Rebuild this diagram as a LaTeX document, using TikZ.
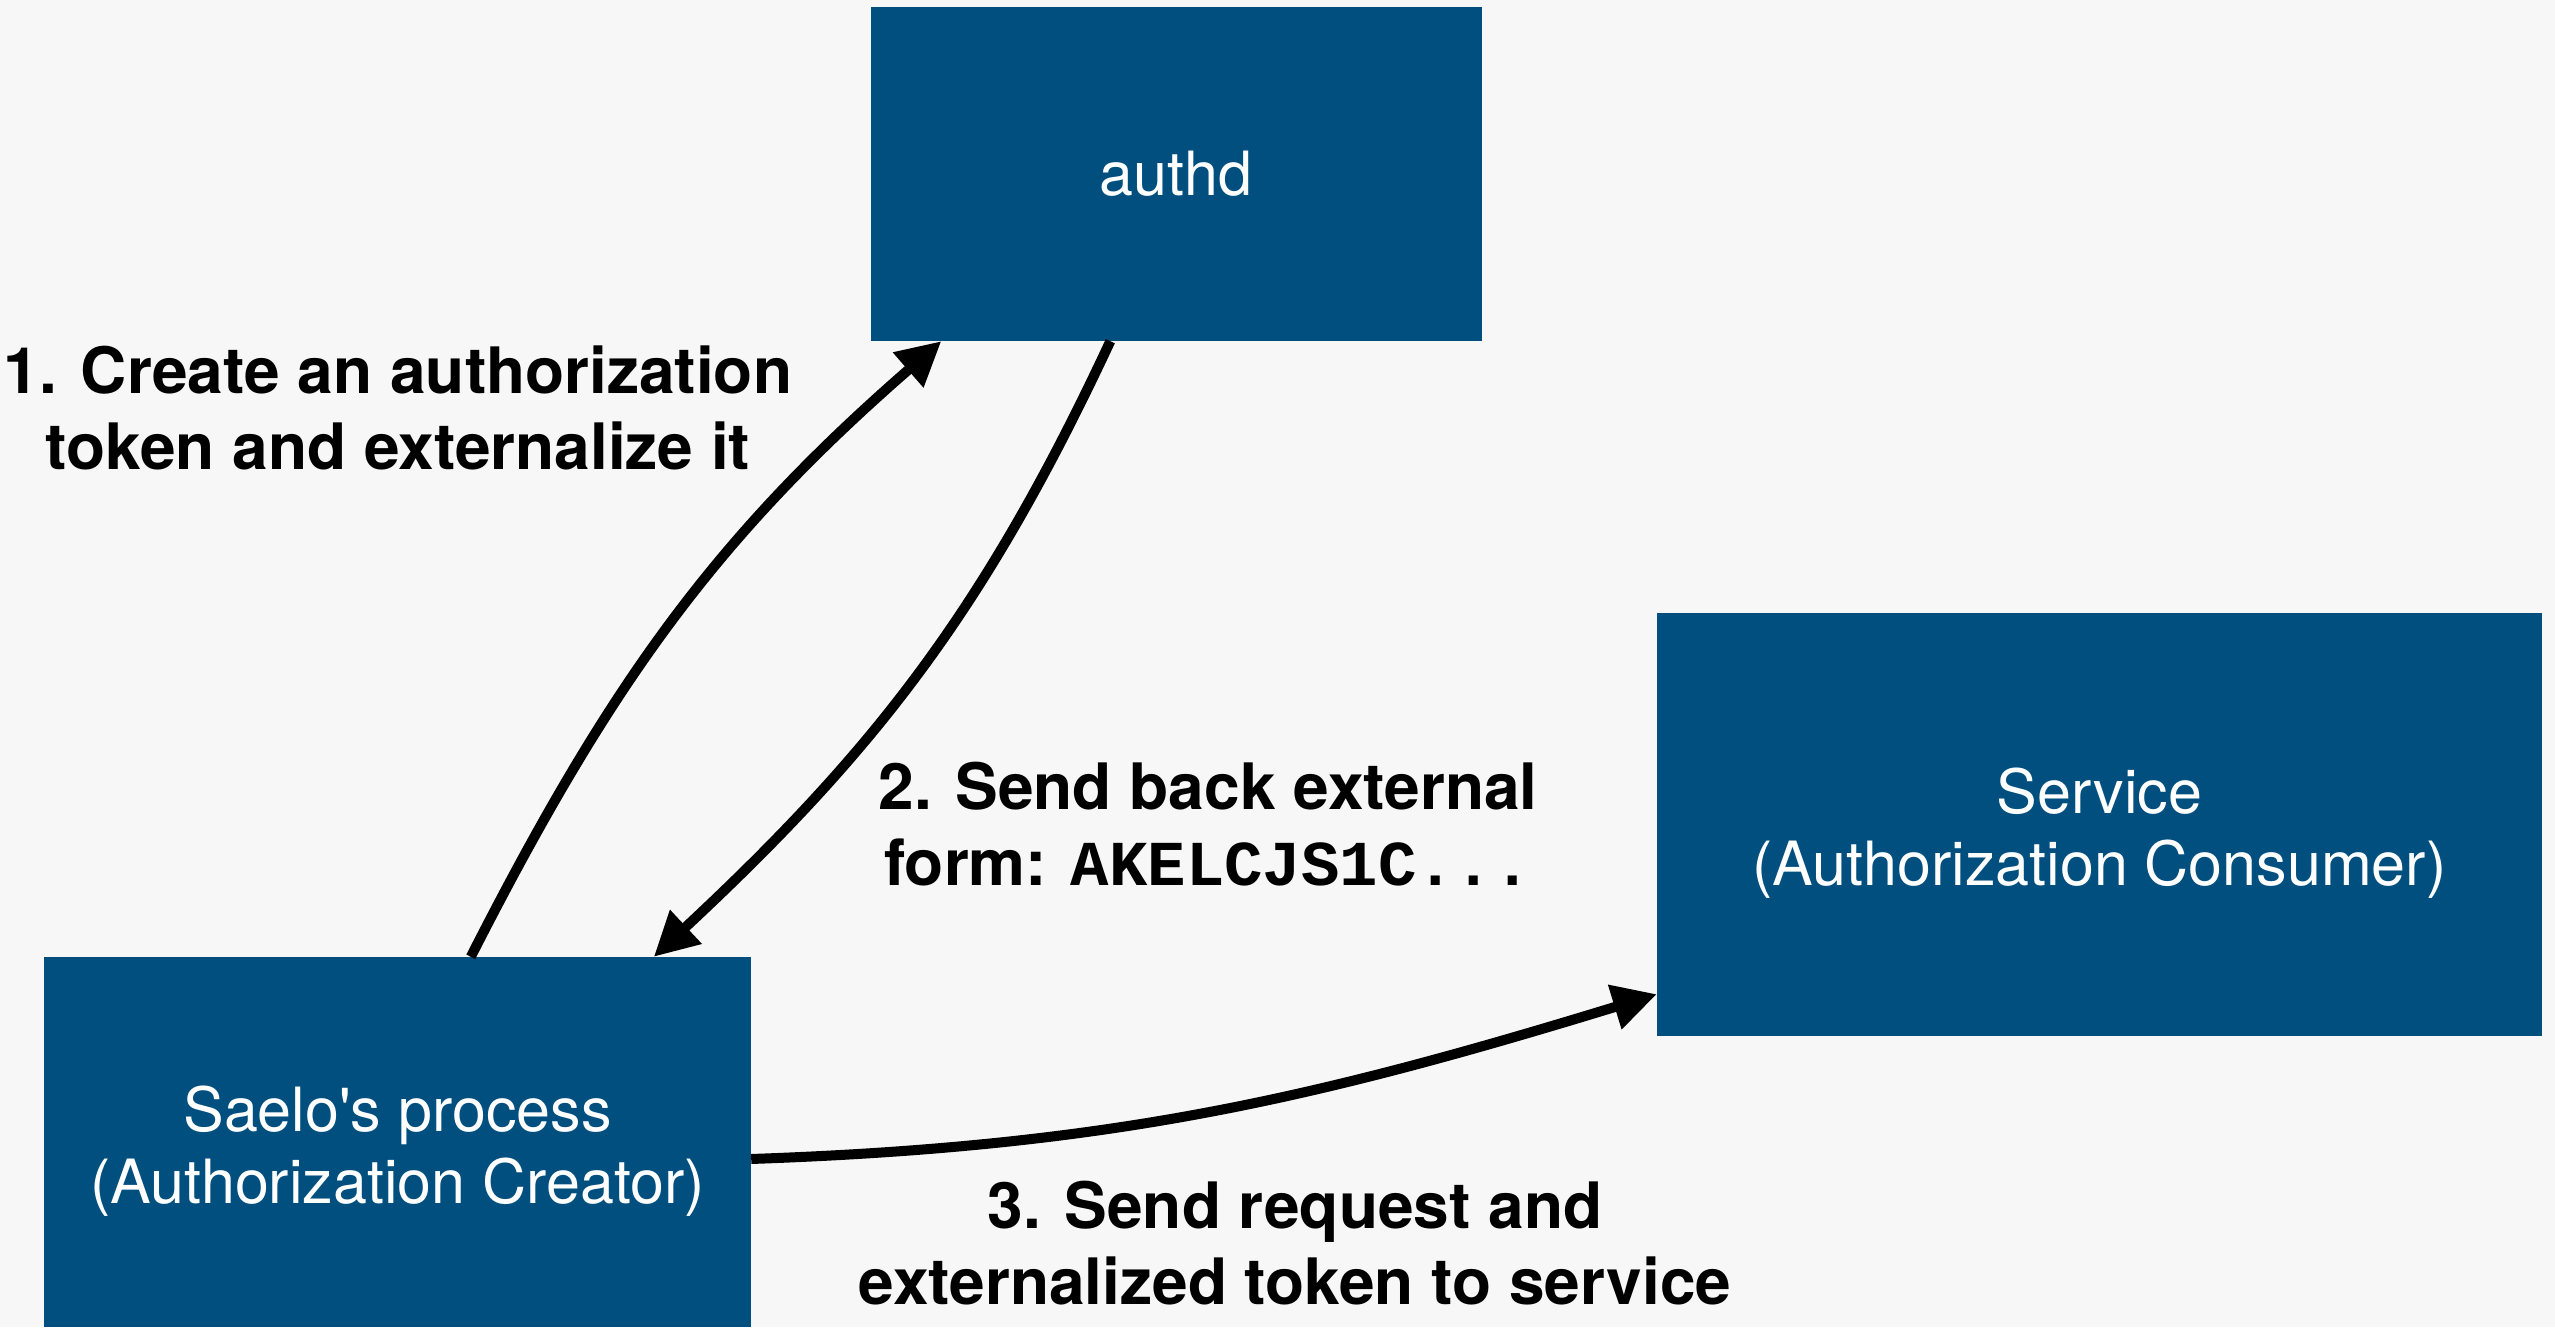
\documentclass[tikz,border=0pt]{standalone}
\usepackage{fontspec}
\setmainfont{TeX Gyre Heros}
\newfontfamily\boxfont{TeX Gyre Heros}[Ligatures=TeXOff]
\newfontfamily\codefont{Liberation Mono}
\usetikzlibrary{arrows.meta,calc}
\definecolor{boxblue}{RGB}{0,79,127}
\definecolor{paper}{RGB}{247,247,247}
\tikzset{
  block/.style={fill=boxblue, draw=none, inner sep=0pt},
  blocktext/.style={text=white, align=center, inner sep=0pt,
    font=\boxfont\fontsize{61}{72}\selectfont},
  steplabel/.style={text=black, align=center, inner sep=0pt,
    font=\fontsize{64}{76}\selectfont\bfseries},
  flow/.style={line width=10pt, draw=black,
    -{Triangle[length=44pt,width=44pt]}},
}
\begin{document}
\begin{tikzpicture}[x=1pt,y=1pt]
  % canvas
  \fill[paper] (0,0) rectangle (2555,1327);
  \useasboundingbox (0,0) rectangle (2555,1327);

  % components
  \node[block, minimum width=611pt, minimum height=334pt] (authd) at (1176,1153) {};
  \node[blocktext] (authd-t) at (authd) {authd};
  \node[block, minimum width=885pt, minimum height=423pt] (service) at (2099.5,502.5) {};
  \node[blocktext] (service-t) at ($(service)+(0,-9)$) {Service\\(Authorization Consumer)};
  \node[block, minimum width=707pt, minimum height=370pt] (saelo) at (397.5,185) {};
  \node[blocktext] (saelo-t) at ($(saelo)+(0,-9)$) {Saelo's process\\(Authorization Creator)};

  % step descriptions
  \node[steplabel] (l1) at (398,919) {1. Create an authorization\\token and externalize it};
  \node[steplabel] (l2) at (1208,503) {2. Send back external\\form: {\codefont\bfseries AKELCJS1C...}};
  \node[steplabel] (l3) at (1295,84) {3. Send request and\\externalized token to service};

  % attachment points on the boxes
  \coordinate (s1) at ($(saelo.north west)+(427,0)$);
  \coordinate (e1) at ($(authd.south west)+(71,0)$);
  \coordinate (s2) at ($(authd.south west)+(240,0)$);
  \coordinate (e2) at ($(saelo.north west)+(610,0)$);
  \coordinate (s3) at ($(saelo.east)+(0,-17)$);
  \coordinate (e3) at ($(service.south west)+(0,42)$);

  % messages
  \draw[flow] (s1) to[out=63, in=221] (e1);
  \draw[flow] (s2) to[out=245, in=43] (e2);
  \draw[flow] (s3) to[out=2, in=197] (e3);
\end{tikzpicture}
\end{document}
